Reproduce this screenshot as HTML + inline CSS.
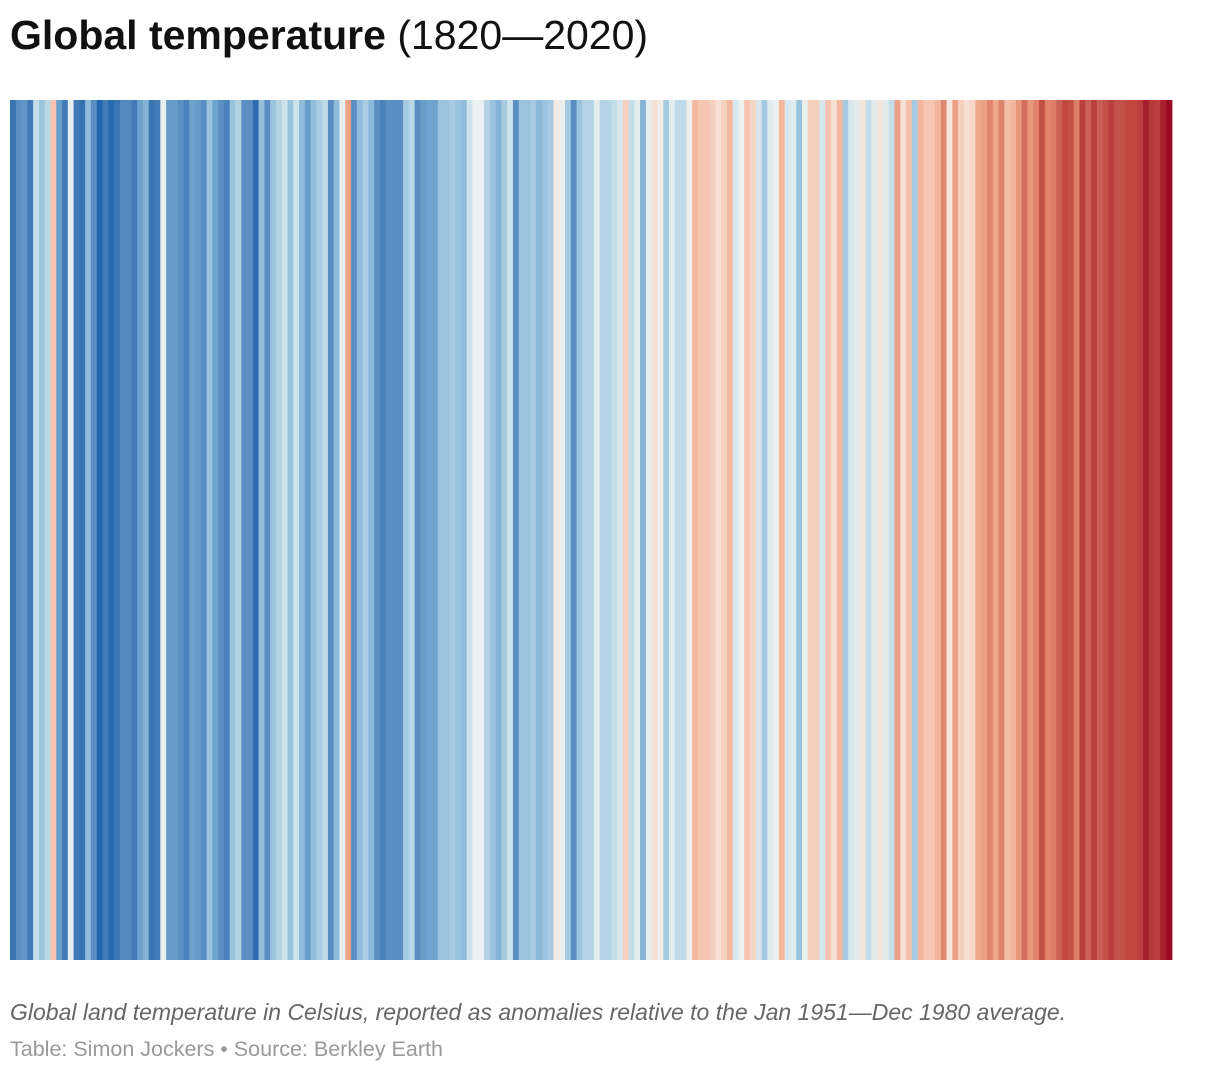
<!DOCTYPE html>
<html><head><meta charset="utf-8">
<style>
html,body{margin:0;padding:0;background:#fff;width:1220px;height:1074px;overflow:hidden;font-family:"Liberation Sans",sans-serif;}
#title{position:absolute;left:10px;top:12px;font-size:41px;color:#111;white-space:nowrap;}
#title b{font-weight:bold;}
#chart{position:absolute;left:0;top:0;}
#caption{position:absolute;left:10px;top:999px;font-size:23px;font-style:italic;color:#666;white-space:nowrap;}
#source{position:absolute;left:10px;top:1037px;font-size:21.5px;color:#999;white-space:nowrap;}
</style></head><body>
<div id="title"><b>Global temperature</b> (1820—2020)</div>
<svg id="chart" width="1220" height="1074"></svg>
<div id="caption">Global land temperature in Celsius, reported as anomalies relative to the Jan 1951—Dec 1980 average.</div>
<div id="source">Table: Simon Jockers • Source: Berkley Earth</div>
<script>
const startYear = 1820;
const anomalies = [
-1.0,-0.8,-0.75,-0.95,-0.25,-0.45,-0.3,0.3,-0.7,-0.95,
-0.05,-0.95,-1.05,-0.5,-0.8,-1.2,-0.95,-1.15,-1.0,-0.85,
-0.85,-0.95,-0.65,-0.55,-1.0,-0.95,-0.05,-0.7,-0.7,-0.8,
-0.9,-0.65,-0.7,-0.8,-0.45,-0.65,-0.8,-0.9,-0.45,-0.33,
-0.8,-0.8,-1.1,-0.48,-0.8,-0.45,-0.33,-0.2,-0.45,-0.2,
-0.5,-0.7,-0.48,-0.38,-0.28,-0.8,-0.5,-0.05,0.5,-0.8,
-0.5,-0.38,-0.52,-0.8,-0.9,-0.8,-0.8,-0.8,-0.4,-0.3,
-0.8,-0.7,-0.65,-0.65,-0.45,-0.45,-0.4,-0.45,-0.5,-0.2,
-0.03,-0.03,-0.33,-0.45,-0.55,-0.4,-0.2,-0.8,-0.45,-0.45,
-0.4,-0.52,-0.45,-0.4,0.05,-0.03,-0.4,-0.8,-0.45,-0.33,
-0.33,-0.08,-0.33,-0.33,-0.25,-0.15,0.22,-0.25,-0.08,-0.55,
-0.08,0.12,0.03,-0.4,-0.08,-0.28,-0.28,0.02,0.38,0.28,
0.28,0.22,0.12,0.22,0.38,-0.15,0,0.3,0.18,-0.15,
-0.4,-0.1,-0.03,0.38,-0.15,-0.1,-0.45,-0.03,0.22,0.22,
-0.15,0.3,0.12,0.38,-0.4,-0.15,-0.08,0.08,-0.25,-0.08,
0.08,-0.08,-0.25,0.52,0.12,0.32,-0.4,0.38,0.28,0.28,
0.38,0.72,0.08,0.52,0.22,0.12,0.18,0.48,0.52,0.75,
0.48,0.75,0.34,0.38,0.58,0.85,0.58,0.75,1.0,0.75,
0.78,0.92,1.05,1.0,0.78,1.12,0.92,1.12,0.92,1.0,
1.12,1.0,1.0,1.05,1.05,1.12,1.35,1.15,1.12,1.35,
1.5
];
const stopVals = [-1.2,-1.0,-0.8,-0.65,-0.5,-0.35,-0.2,-0.05,0,0.1,0.25,0.4,0.55,0.75,0.9,1.05,1.2,1.35,1.5];
const stopCols = ["#2166ac","#3a74b3","#5b8fc3","#6fa2cc","#8fbcda","#b0d1e4","#cfe3ec","#e8f0ef","#eef0ee","#f6e3d8","#f6cbb9","#f4b49a","#eb9a80","#e0846e","#cc6459","#c0483f","#b03538","#a51f2e","#9a0a24"];

function hex(c){return [1,3,5].map(i=>parseInt(c.substr(i,2),16));}
function color(v){
  if(v<=stopVals[0])return stopCols[0];
  for(let i=1;i<stopVals.length;i++){
    if(v<=stopVals[i]){
      const t=(v-stopVals[i-1])/(stopVals[i]-stopVals[i-1]);
      const a=hex(stopCols[i-1]),b=hex(stopCols[i]);
      return "rgb("+a.map((x,j)=>Math.round(x+(b[j]-x)*t)).join(",")+")";
    }
  }
  return stopCols[stopCols.length-1];
}
const X0=10,X1=1172,Y0=100,Y1=960;
const n=anomalies.length;
function xScale(i){return X0+(X1-X0)*i/n;}
const svg=document.getElementById('chart');
const NS="http://www.w3.org/2000/svg";
anomalies.forEach((v,i)=>{
  const r=document.createElementNS(NS,'rect');
  const x=xScale(i),w=xScale(i+1)-x;
  r.setAttribute('x',x);
  r.setAttribute('y',Y0);
  r.setAttribute('width',w+0.4);
  r.setAttribute('height',Y1-Y0);
  r.setAttribute('fill',color(v));
  
  
  svg.appendChild(r);
});
</script>
</body></html>
